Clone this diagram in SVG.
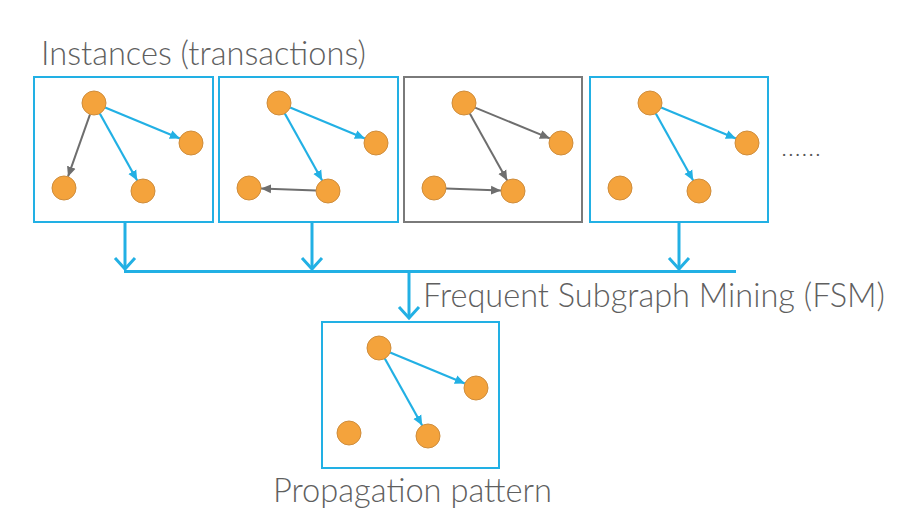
<svg xmlns="http://www.w3.org/2000/svg" width="905" height="532" viewBox="0 0 905 532">
<style>
.box{fill:#ffffff;stroke:#22b0e4;stroke-width:2}
.gbox{fill:#ffffff;stroke:#7a7a7a;stroke-width:2}
.n{fill:#f4a33c;stroke:#cf8d3c;stroke-width:1}
.eb{stroke:#22b0e4;stroke-width:2.2;fill:none;marker-end:url(#ab)}
.eg{stroke:#6e6e6e;stroke-width:2;fill:none;marker-end:url(#ag)}
.flow{stroke:#22b0e4;stroke-width:3;fill:none}
.lbl{font-family:Lato,"Liberation Sans",sans-serif;font-weight:300;fill:#5f5f5f}
</style>
<defs>
<marker id="ab" viewBox="0 0 10 10" refX="10" refY="5" markerWidth="10" markerHeight="10" markerUnits="userSpaceOnUse" orient="auto"><path d="M0,0.5 L10,5 L0,9.5 Z" fill="#22b0e4"/></marker>
<marker id="ag" viewBox="0 0 10 10" refX="10" refY="5" markerWidth="10" markerHeight="10" markerUnits="userSpaceOnUse" orient="auto"><path d="M0,0.5 L10,5 L0,9.5 Z" fill="#6e6e6e"/></marker>
</defs>
<rect width="905" height="532" fill="#ffffff"/>
<text class="lbl" x="41" y="65" font-size="33" textLength="325" lengthAdjust="spacingAndGlyphs">Instances (transactions)</text>

<g id="inst1">
<rect class="box" x="34" y="77" width="179" height="145"/>
<line class="eb" x1="105.1" y1="107.6" x2="179.9" y2="138.4"/>
<line class="eb" x1="99.8" y1="113.5" x2="137.2" y2="180.5"/>
<line class="eg" x1="90" y1="114.3" x2="68" y2="176.7"/>
<circle class="n" cx="94" cy="103" r="12"/>
<circle class="n" cx="191" cy="143" r="12"/>
<circle class="n" cx="64" cy="188" r="12"/>
<circle class="n" cx="143" cy="191" r="12"/>
</g>

<g id="inst2" transform="translate(185,0)">
<rect class="box" x="34" y="77" width="179" height="145"/>
<line class="eb" x1="105.1" y1="107.6" x2="179.9" y2="138.4"/>
<line class="eb" x1="99.8" y1="113.5" x2="137.2" y2="180.5"/>
<line class="eg" x1="131" y1="190.5" x2="76" y2="188.5"/>
<circle class="n" cx="94" cy="103" r="12"/>
<circle class="n" cx="191" cy="143" r="12"/>
<circle class="n" cx="64" cy="188" r="12"/>
<circle class="n" cx="143" cy="191" r="12"/>
</g>

<g id="inst3" transform="translate(370,0)">
<rect class="gbox" x="34" y="77" width="178" height="145"/>
<line class="eg" x1="105.1" y1="107.6" x2="179.9" y2="138.4"/>
<line class="eg" x1="99.8" y1="113.5" x2="137.2" y2="180.5"/>
<line class="eg" x1="76" y1="188.5" x2="131" y2="190.5"/>
<circle class="n" cx="94" cy="103" r="12"/>
<circle class="n" cx="191" cy="143" r="12"/>
<circle class="n" cx="64" cy="188" r="12"/>
<circle class="n" cx="143" cy="191" r="12"/>
</g>

<g id="inst4" transform="translate(556,0)">
<rect class="box" x="34" y="77" width="178" height="145"/>
<line class="eb" x1="105.1" y1="107.6" x2="179.9" y2="138.4"/>
<line class="eb" x1="99.8" y1="113.5" x2="137.2" y2="180.5"/>
<circle class="n" cx="94" cy="103" r="12"/>
<circle class="n" cx="191" cy="143" r="12"/>
<circle class="n" cx="64" cy="188" r="12"/>
<circle class="n" cx="143" cy="191" r="12"/>
</g>

<text x="782" y="156" font-family="Lato,'Liberation Sans',sans-serif" font-size="18" fill="#555555" textLength="38" lengthAdjust="spacing">......</text>

<g id="connectors">
<line class="flow" x1="125" y1="222" x2="125" y2="268"/>
<polyline class="flow" points="115,258 125,269 135,258"/>
<line class="flow" x1="312" y1="222" x2="312" y2="268"/>
<polyline class="flow" points="302,258 312,269 322,258"/>
<line class="flow" x1="679" y1="222" x2="679" y2="268"/>
<polyline class="flow" points="669,258 679,269 689,258"/>
<line class="flow" x1="124" y1="271.5" x2="736" y2="271.5" stroke-width="2.5"/>
<line class="flow" x1="409" y1="271.5" x2="409" y2="318"/>
<polyline class="flow" points="399,307 409,318 419,307"/>
</g>

<text class="lbl" x="423" y="307" font-size="33" textLength="462" lengthAdjust="spacingAndGlyphs">Frequent Subgraph Mining (FSM)</text>

<g id="pattern">
<rect class="box" x="322" y="322" width="177" height="146"/>
<g transform="translate(285,245)">
<line class="eb" x1="105.1" y1="107.6" x2="179.9" y2="138.4"/>
<line class="eb" x1="99.8" y1="113.5" x2="137.2" y2="180.5"/>
<circle class="n" cx="94" cy="103" r="12"/>
<circle class="n" cx="191" cy="143" r="12"/>
<circle class="n" cx="64" cy="188" r="12"/>
<circle class="n" cx="143" cy="191" r="12"/>
</g>
</g>

<text class="lbl" x="273" y="502" font-size="33" textLength="279" lengthAdjust="spacingAndGlyphs">Propagation pattern</text>
</svg>
